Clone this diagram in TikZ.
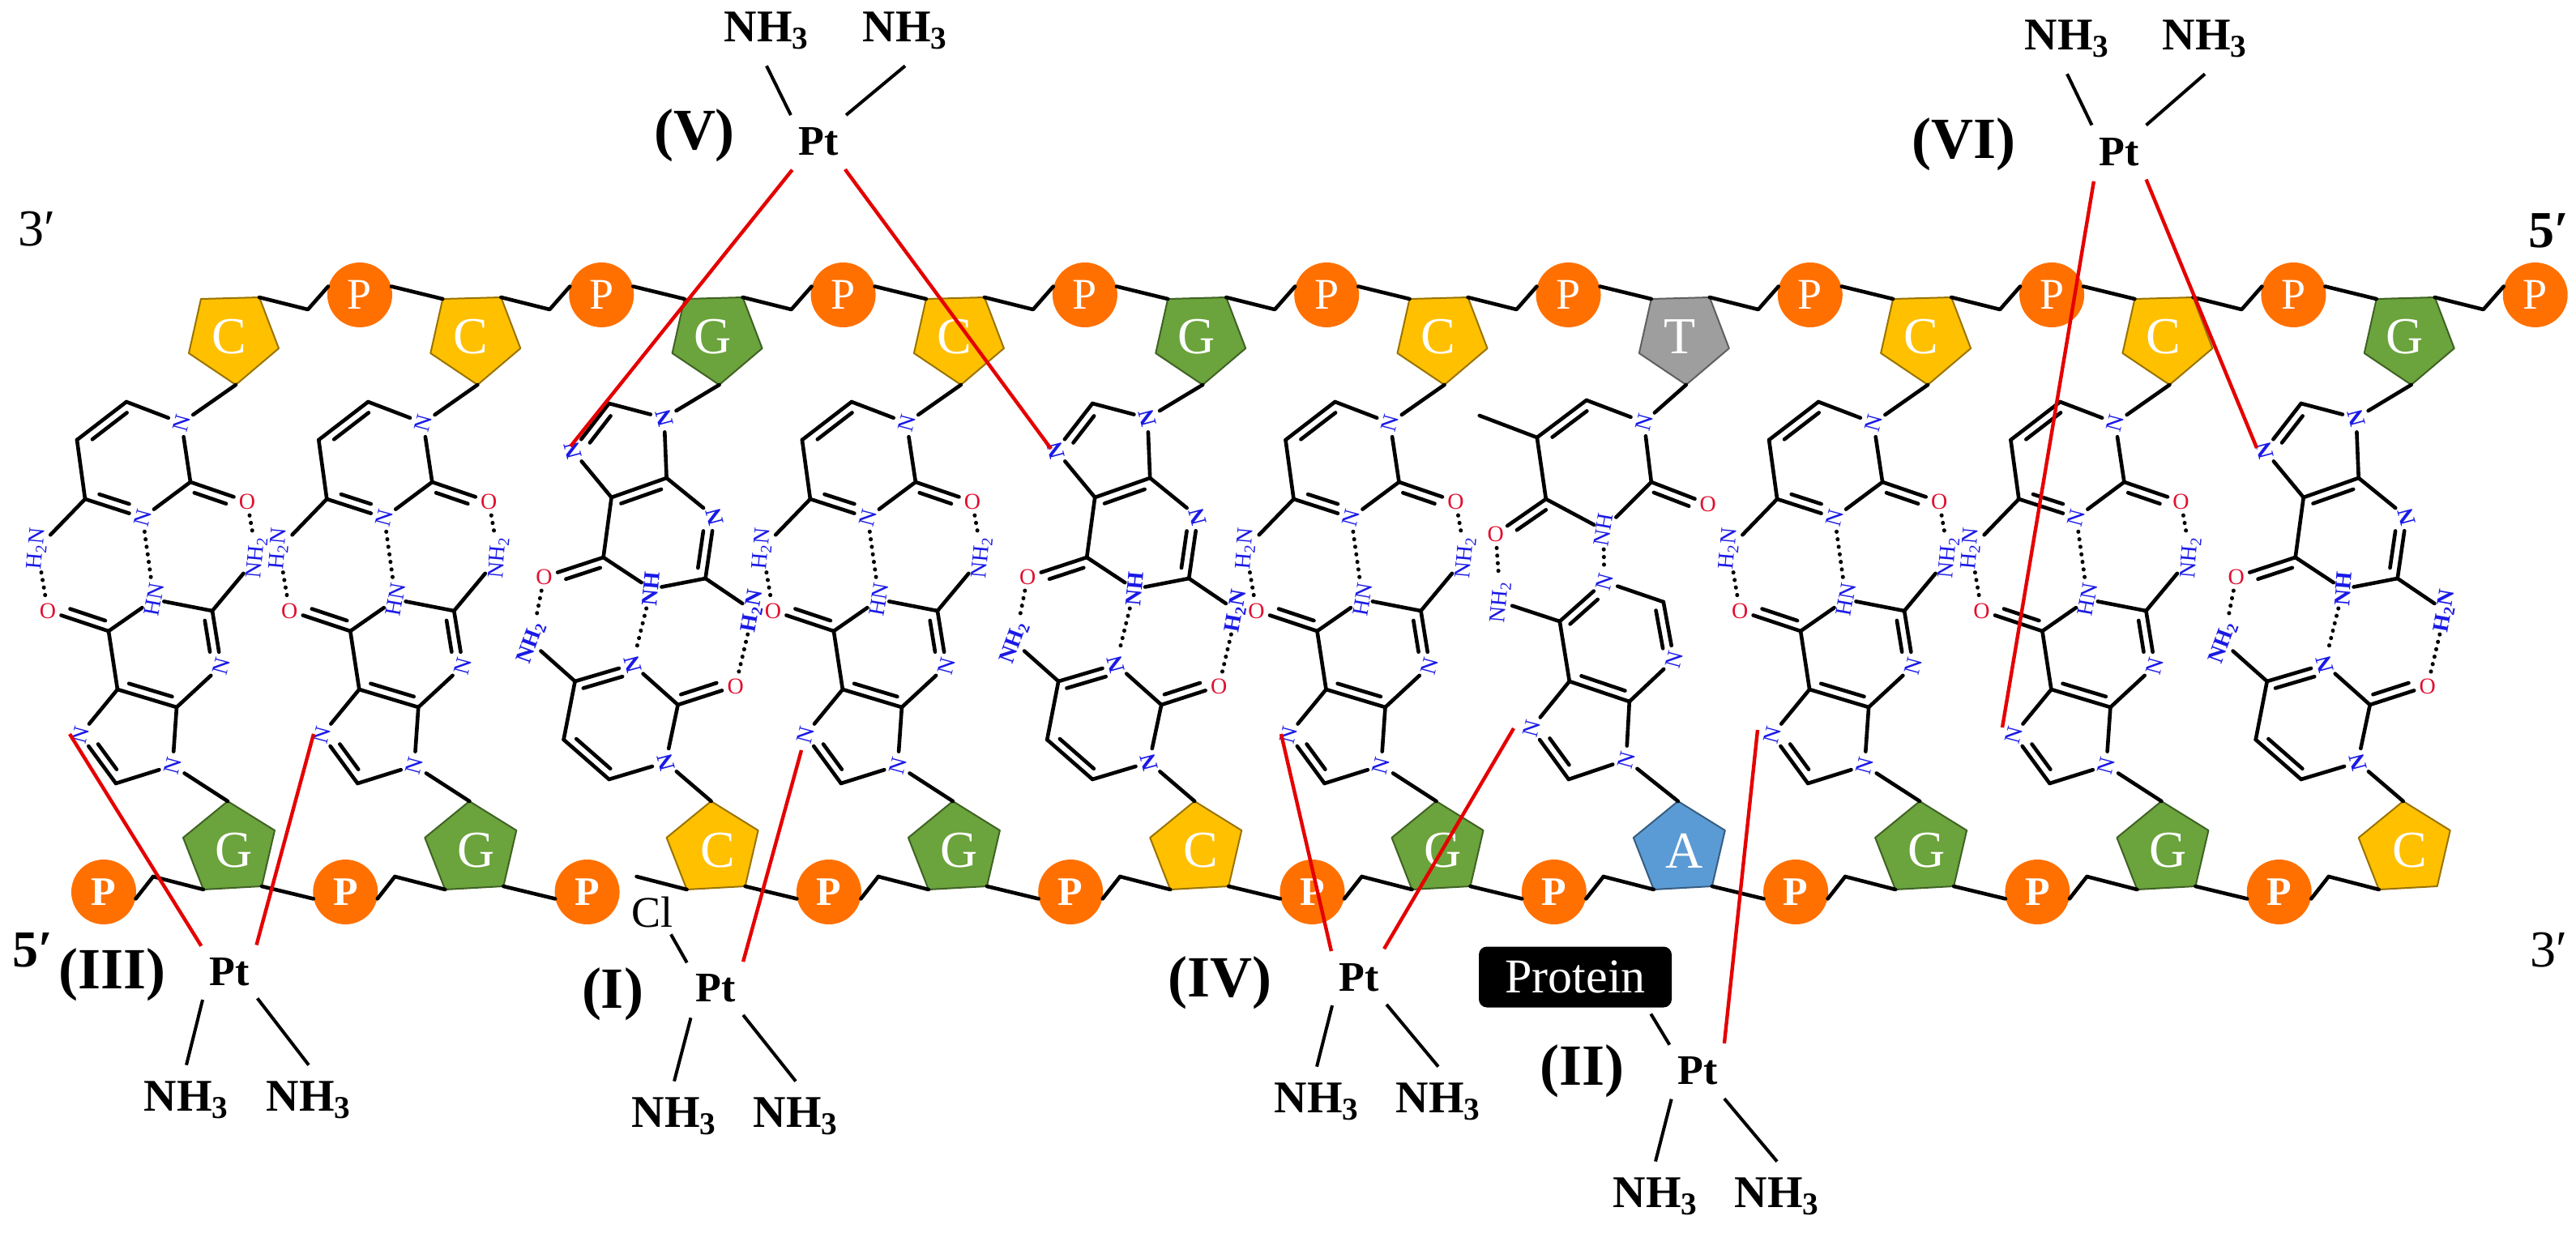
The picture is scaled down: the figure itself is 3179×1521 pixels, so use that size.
\documentclass[tikz,border=0pt]{standalone}
\usepackage{fontspec}
\setmainfont{Liberation Serif}
\usetikzlibrary{calc}

\definecolor{goldC}{HTML}{FFC000}
\definecolor{leafG}{HTML}{6BA33C}
\definecolor{greyT}{HTML}{9E9E9E}
\definecolor{blueA}{HTML}{5B9BD5}
\definecolor{orangeP}{HTML}{FF7000}
\definecolor{atomN}{HTML}{1A1AE6}
\definecolor{atomO}{HTML}{E01030}

\tikzset{
bond/.style={line width=2.3pt, line cap=round, line join=round},
hbond/.style={line width=2.5pt, line cap=round, dash pattern=on 0.1pt off 4.6pt},
platbond/.style={line width=2.2pt, red!90!black},
armbond/.style={line width=2pt},
sugar/.style={line width=1pt, line join=round},
baseletter/.style={white, inner sep=0pt, font=\fontsize{32}{32}\selectfont},
pnode/.style={circle, fill=orangeP, minimum size=40pt, inner sep=0pt, text=white, font=\fontsize{25}{25}\selectfont\bfseries},
atomn/.style={circle, inner sep=0pt, minimum size=17pt, text=atomN, rotate=75, font=\fontsize{14}{14}\selectfont},
atomb/.style={atomn, rotate=30, font=\fontsize{14}{14}\selectfont\bfseries},
atomo/.style={circle, inner sep=0pt, minimum size=17pt, text=atomO, font=\fontsize{14}{14}\selectfont},
groupn/.style={inner sep=1.5pt, text=atomN, rotate=85, font=\fontsize{14}{14}\selectfont},
groupb/.style={groupn, font=\fontsize{14}{14}\selectfont\bfseries},
ptnode/.style={circle, inner sep=0pt, minimum size=47pt, font=\fontsize{26}{26}\selectfont\bfseries},
nhthree/.style={inner sep=10pt, font=\fontsize{28}{28}\selectfont\bfseries},
tagnode/.style={inner sep=0pt, font=\fontsize{36}{36}\selectfont\bfseries},
endnode/.style={inner sep=0pt, font=\fontsize{32}{32}\selectfont},
}

% double bond: a, b, side of the short line, where the short line starts and stops
\newcommand{\dbl}[5]{
\draw[bond] (#1) -- (#2);
\draw[bond] ($(#1)!#4!(#2)!5.5pt!#3:(#2)$) -- ($(#1)!#5!(#2)!5.5pt!#3:(#2)$);
}

% sugars of the upper and lower strand
\newcommand{\topsugar}[2]{
\coordinate (-tl) at (0,369);
\coordinate (-tr) at (72,367);
\coordinate (-sr) at (96,430);
\coordinate (-sb) at (43,475);
\coordinate (-sl) at (-15,436);
\coordinate (-kt) at (132,382);
\draw[sugar, fill=#1, draw=#1!60!black] (-tl)--(-tr)--(-sr)--(-sb)--(-sl)--cycle;
\node[baseletter] (-lt) at (35,416) {#2};
}
\newcommand{\botsugar}[2]{
\coordinate (-st) at (33,989);
\coordinate (-er) at (91,1025);
\coordinate (-br) at (75,1094);
\coordinate (-bl) at (3,1098);
\coordinate (-el) at (-22,1034);
\coordinate (-kb) at (-59,1082);
\draw[sugar, fill=#1, draw=#1!60!black] (-st)--(-er)--(-br)--(-bl)--(-el)--cycle;
\node[baseletter] (-lb) at (41,1050) {#2};
}

\tikzset{
pics/cgpair/.style={code={
\topsugar{goldC}{C}
\botsugar{leafG}{G}
% upper ring
\coordinate (-c6) at (-92,496);
\coordinate (-c5) at (-153,543);
\coordinate (-c4) at (-143,616);
\coordinate (-c2) at (-13,595);
\node[atomn] (-n1) at (-24,522) {N};
\node[atomn] (-n3) at (-72,639) {N};
\node[atomo] (-o2) at (57,619) {O};
\node[groupn] (-h2n) at (-202,677) {H\textsubscript{2}N};
\draw[bond] (-sb) -- (-n1);
\draw[bond] (-n1) -- (-c6);
\dbl{-c6}{-c5}{90}{.1}{.8}
\draw[bond] (-c5) -- (-c4);
\dbl{-c4}{-n3}{90}{.2}{.72}
\draw[bond] (-n3) -- (-c2) -- (-n1);
\dbl{-c2}{-o2}{-90}{.12}{.68}
\draw[bond] (-c4) -- (-h2n);
% lower rings
\coordinate (-d6) at (-114,779);
\coordinate (-d5) at (-103,851);
\coordinate (-d4) at (-30,873);
\coordinate (-d2) at (14,754);
\coordinate (-d8) at (-105,967);
\node[atomo] (-o6) at (-189,754) {O};
\node[atomn] (-n7) at (-149,907) {N};
\node[atomn] (-n9) at (-35,945) {N};
\node[atomn] (-n4) at (25,822) {N};
\node[groupn, rotate=-5] (-hn) at (-58,740) {HN};
\node[groupn] (-nh2) at (69,688) {NH\textsubscript{2}};
\dbl{-d6}{-o6}{-90}{.1}{.68}
\draw[bond] (-d6) -- (-hn) -- (-d2) -- (-nh2);
\dbl{-d2}{-n4}{-90}{.15}{.72}
\draw[bond] (-n4) -- (-d4);
\dbl{-d4}{-d5}{-90}{.12}{.85}
\draw[bond] (-d5) -- (-d6);
\draw[bond] (-d5) -- (-n7);
\dbl{-n7}{-d8}{90}{.3}{.82}
\draw[bond] (-d8) -- (-n9) -- (-d4);
\draw[bond] (-n9) -- (-st);
% hydrogen bonds
\draw[hbond] (-h2n) -- (-o6);
\draw[hbond] (-n3) -- (-hn);
\draw[hbond] (-o2) -- (-nh2);
}},
pics/gcpair/.style={code={
\topsugar{leafG}{G}
\botsugar{goldC}{C}
% upper rings
\coordinate (-c8) at (-93,498);
\coordinate (-c5) at (-90,614);
\coordinate (-c4) at (-22,590);
\coordinate (-c2) at (26,714);
\coordinate (-c6) at (-100,688);
\node[atomb] (-n9) at (-25,516) {N};
\node[atomb] (-n7) at (-138,556) {N};
\node[atomb] (-n3) at (37,638) {N};
\node[atomo] (-o6) at (-173,712) {O};
\node[groupb] (-nh) at (-41,727) {NH};
\node[groupb, rotate=-5] (-h2n) at (85,754) {H\textsubscript{2}N};
\draw[bond] (-sb) -- (-n9) -- (-c8);
\dbl{-c8}{-n7}{90}{.15}{.72}
\draw[bond] (-n7) -- (-c5);
\dbl{-c5}{-c4}{-90}{.12}{.85}
\draw[bond] (-c4) -- (-n9);
\draw[bond] (-c4) -- (-n3);
\dbl{-n3}{-c2}{-90}{.25}{.85}
\draw[bond] (-c2) -- (-nh) -- (-c6) -- (-c5);
\dbl{-c6}{-o6}{90}{.1}{.68}
\draw[bond] (-c2) -- (-h2n);
% lower ring
\coordinate (-d4) at (-135,841);
\coordinate (-d5) at (-149,913);
\coordinate (-d6) at (-93,962);
\coordinate (-d2) at (-8,870);
\node[atomb] (-m3) at (-64,820) {N};
\node[atomb] (-m1) at (-23,941) {N};
\node[atomo] (-o2) at (63,847) {O};
\node[groupb, rotate=-15] (-nh2) at (-189,793) {NH\textsubscript{2}};
\draw[bond] (-nh2) -- (-d4);
\dbl{-d4}{-m3}{-90}{.1}{.78}
\draw[bond] (-m3) -- (-d2);
\dbl{-d2}{-o2}{90}{.1}{.72}
\draw[bond] (-d2) -- (-m1) -- (-d6);
\dbl{-d6}{-d5}{-90}{.1}{.85}
\draw[bond] (-d5) -- (-d4);
\draw[bond] (-m1) -- (-st);
% hydrogen bonds
\draw[hbond] (-nh) -- (-m3);
\draw[hbond] (-h2n) -- (-o2);
\draw[hbond] (-o6) -- (-nh2);
}},
pics/tapair/.style={code={
\topsugar{greyT}{T}
\botsugar{blueA}{A}
% upper ring
\coordinate (-c6) at (-80,494);
\coordinate (-c5) at (-141,540);
\coordinate (-me) at (-212,513);
\coordinate (-c4) at (-130,616);
\coordinate (-c2) at (0,595);
\node[atomn] (-n1) at (-9,521) {N};
\node[atomo] (-o4) at (-192,659) {O};
\node[atomo] (-o2) at (70,622) {O};
\node[groupn, rotate=-5] (-nh) at (-59,654) {NH};
\draw[bond] (-sb) -- (-n1) -- (-c6);
\dbl{-c6}{-c5}{90}{.1}{.8}
\draw[bond] (-c5) -- (-me);
\draw[bond] (-c5) -- (-c4);
\dbl{-c4}{-o4}{90}{.1}{.68}
\draw[bond] (-c4) -- (-nh) -- (-c2) -- (-n1);
\dbl{-c2}{-o2}{-90}{.1}{.72}
% lower rings
\coordinate (-d6) at (-113,767);
\coordinate (-d2) at (15,743);
\coordinate (-d4) at (-27,866);
\coordinate (-d5) at (-101,841);
\coordinate (-d8) at (-102,962);
\node[atomn] (-m1) at (-58,718) {N};
\node[atomn] (-m3) at (28,814) {N};
\node[atomn] (-n7) at (-148,899) {N};
\node[atomn] (-n9) at (-31,938) {N};
\node[groupn] (-nh2) at (-186,743) {NH\textsubscript{2}};
\draw[bond] (-nh2) -- (-d6);
\dbl{-d6}{-m1}{-90}{.1}{.72}
\draw[bond] (-m1) -- (-d2);
\dbl{-d2}{-m3}{-90}{.12}{.78}
\draw[bond] (-m3) -- (-d4);
\dbl{-d4}{-d5}{-90}{.12}{.85}
\draw[bond] (-d5) -- (-d6);
\draw[bond] (-d5) -- (-n7);
\dbl{-n7}{-d8}{90}{.3}{.82}
\draw[bond] (-d8) -- (-n9) -- (-d4);
\draw[bond] (-n9) -- (-st);
% hydrogen bonds
\draw[hbond] (-nh) -- (-m1);
\draw[hbond] (-o4) -- (-nh2);
}},
}

\begin{document}
\begin{tikzpicture}[x=.5pt,y=-.5pt]
\useasboundingbox (0,0) rectangle (3179,1521);

% base pairs
\pic (b0) at (248,0) {cgpair};
\pic (b1) at (546.3,0) {cgpair};
\pic (b2) at (844.6,0) {gcpair};
\pic (b3) at (1142.9,0) {cgpair};
\pic (b4) at (1441.2,0) {gcpair};
\pic (b5) at (1739.5,0) {cgpair};
\pic (b6) at (2037.8,0) {tapair};
\pic (b7) at (2336.1,0) {cgpair};
\pic (b8) at (2634.4,0) {cgpair};
\pic (b9) at (2932.7,0) {gcpair};

% phosphates
\foreach \k in {0,...,9} {
\node[pnode, font=\fontsize{27}{27}\selectfont] (up\k) at ({444+298.3*\k},364) {P};
\node[pnode] (lo\k) at ({128+298.3*\k},1101) {P};
}

% backbone, upper strand
\foreach \k in {0,...,9} {
\draw[bond] (b\k-tr) -- (b\k-kt) -- (up\k.165);
}
\foreach \k/\n in {0/1,1/2,2/3,3/4,4/5,5/6,6/7,7/8,8/9} {
\draw[bond] (up\k.15) -- (b\n-tl);
}
% backbone, lower strand
\foreach \k in {0,...,9} {
\draw[bond] (b\k-kb) -- (b\k-bl);
}
\foreach \k in {0,1,3,4,5,6,7,8,9} {
\draw[bond] (lo\k.-12) -- (b\k-kb);
}
\foreach \k/\n in {0/1,1/2,2/3,3/4,4/5,5/6,6/7,7/8,8/9} {
\draw[bond] (b\k-br) -- (lo\n.192);
}

% strand ends
\node[endnode] (endA) at (46,283) {3′};
\node[endnode, font=\fontsize{32}{32}\selectfont\bfseries] (endB) at (3145,285) {5′};
\node[endnode, font=\fontsize{32}{32}\selectfont\bfseries] (endC) at (40,1173) {5′};
\node[endnode] (endD) at (3145,1173) {3′};

% platinum adduct (V)
\node[ptnode] (ptV) at (1010,175) {Pt};
\node[tagnode] (tagV) at (857,167) {(V)};
\node[nhthree] (vA) at (946,38) {NH\textsubscript{3}};
\node[nhthree] (vB) at (1117,38) {NH\textsubscript{3}};
\draw[armbond] (ptV.136) -- (vA.south);
\draw[armbond] (ptV.44) -- (vB.south);
\coordinate (vC) at (704,551);
\coordinate (vD) at (1297,554);
\draw[platbond] (ptV.-133) -- (vC);
\draw[platbond] (ptV.-46) -- (vD);

% platinum adduct (VI)
\node[ptnode] (ptVI) at (2615,188) {Pt};
\node[tagnode] (tagVI) at (2423,178) {(VI)};
\node[nhthree] (viA) at (2551,48) {NH\textsubscript{3}};
\node[nhthree] (viB) at (2721,48) {NH\textsubscript{3}};
\draw[armbond] (ptVI.135) -- (viA.south);
\draw[armbond] (ptVI.45) -- (viB.south);
\coordinate (viC) at (2471,898);
\coordinate (viD) at (2785,553);
\draw[platbond] (ptVI.-131) -- (viC);
\draw[platbond] (ptVI.-45) -- (viD);

% platinum adduct (III)
\node[ptnode] (ptIII) at (283,1200) {Pt};
\node[tagnode] (tagIII) at (139,1203) {(III)};
\node[nhthree] (iiiA) at (230,1358) {NH\textsubscript{3}};
\node[nhthree] (iiiB) at (381,1358) {NH\textsubscript{3}};
\draw[armbond] (ptIII.-134) -- (iiiA.north);
\draw[armbond] (ptIII.-43) -- (iiiB.north);
\coordinate (iiiC) at (86,906);
\coordinate (iiiD) at (387,906);
\draw[platbond] (ptIII.137) -- (iiiC);
\draw[platbond] (ptIII.45) -- (iiiD);

% platinum adduct (I)
\node[ptnode] (ptI) at (883,1220) {Pt};
\node[tagnode] (tagI) at (756,1227) {(I)};
\node[inner sep=4pt, font=\fontsize{27}{27}\selectfont] (clI) at (805,1126) {Cl};
\node[nhthree] (iA) at (832,1378) {NH\textsubscript{3}};
\node[nhthree] (iB) at (982,1378) {NH\textsubscript{3}};
\draw[armbond] (clI.-50) -- (ptI.138);
\draw[armbond] (ptI.-130) -- (iA.north);
\draw[armbond] (ptI.-44) -- (iB.north);
\coordinate (iC) at (989,926);
\draw[platbond] (ptI.44) -- (iC);

% platinum adduct (IV)
\node[ptnode] (ptIV) at (1677,1207) {Pt};
\node[tagnode] (tagIV) at (1505,1213) {(IV)};
\node[nhthree] (ivA) at (1625,1360) {NH\textsubscript{3}};
\node[nhthree] (ivB) at (1775,1360) {NH\textsubscript{3}};
\draw[armbond] (ptIV.-134) -- (ivA.north);
\draw[armbond] (ptIV.-44) -- (ivB.north);
\coordinate (ivC) at (1581,906);
\coordinate (ivD) at (1868,899);
\draw[platbond] (ptIV.136) -- (ivC);
\draw[platbond] (ptIV.49) -- (ivD);

% platinum adduct (II)
\node[ptnode] (ptII) at (2095,1322) {Pt};
\node[tagnode] (tagII) at (1952,1322) {(II)};
\node[fill=black, text=white, rounded corners=5pt, minimum width=119pt, minimum height=37.5pt, inner sep=0pt, outer sep=4pt, font=\fontsize{30}{30}\selectfont] (protein) at (1944,1206) {Protein};
\node[nhthree] (iiA) at (2043,1477) {NH\textsubscript{3}};
\node[nhthree] (iiB) at (2193,1477) {NH\textsubscript{3}};
\draw[armbond] (protein.-26) -- (ptII.137);
\draw[armbond] (ptII.-133) -- (iiA.north);
\draw[armbond] (ptII.-46) -- (iiB.north);
\coordinate (iiC) at (2169,901);
\draw[platbond] (ptII.46) -- (iiC);

\end{tikzpicture}
\end{document}
